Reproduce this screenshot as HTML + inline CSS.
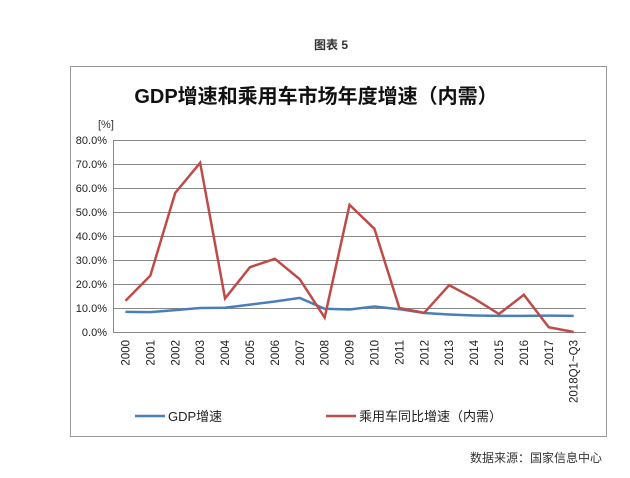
<!DOCTYPE html>
<html><head><meta charset="utf-8"><style>
body{margin:0;background:#fff;width:630px;height:478px;overflow:hidden}
svg{display:block;font-family:"Liberation Sans","Noto Sans CJK SC",sans-serif}
</style></head><body>
<svg width="630" height="478" viewBox="0 0 630 478">
<text x="331" y="49" font-size="12" font-weight="bold" text-anchor="middle" fill="#333">图表 5</text>
<rect x="70.5" y="66.5" width="536" height="370" fill="#fff" stroke="#999" stroke-width="1"/>
<text x="316" y="103" font-size="20" font-weight="bold" text-anchor="middle" fill="#111">GDP增速和乘用车市场年度增速（内需）</text>
<text x="98" y="128" font-size="11" fill="#333">[%]</text>
<g stroke="#888" stroke-width="1">
<line x1="113" y1="140.5" x2="586" y2="140.5"/><line x1="113" y1="164.5" x2="586" y2="164.5"/>
<line x1="113" y1="188.5" x2="586" y2="188.5"/><line x1="113" y1="212.5" x2="586" y2="212.5"/>
<line x1="113" y1="236.5" x2="586" y2="236.5"/><line x1="113" y1="260.5" x2="586" y2="260.5"/>
<line x1="113" y1="284.5" x2="586" y2="284.5"/><line x1="113" y1="308.5" x2="586" y2="308.5"/>
<line x1="113" y1="332.5" x2="586" y2="332.5"/><line x1="113.5" y1="140" x2="113.5" y2="332"/>
</g>
<g font-size="11" fill="#222" text-anchor="end">
<text x="107" y="144">80.0%</text><text x="107" y="168">70.0%</text><text x="107" y="192">60.0%</text>
<text x="107" y="216">50.0%</text><text x="107" y="240">40.0%</text><text x="107" y="264">30.0%</text>
<text x="107" y="288">20.0%</text><text x="107" y="312">10.0%</text><text x="107" y="336">0.0%</text>
</g>
<g font-size="11.5" fill="#222" text-anchor="end" id="xl"></g>
<polyline id="b" fill="none" stroke="#4a7ebb" stroke-width="2.5"/>
<polyline id="r" fill="none" stroke="#be4b48" stroke-width="2.5"/>
<line x1="135" y1="416" x2="165" y2="416" stroke="#4a7ebb" stroke-width="2.5"/>
<text x="168" y="421" font-size="13" fill="#222">GDP增速</text>
<line x1="326" y1="416" x2="356" y2="416" stroke="#be4b48" stroke-width="2.5"/>
<text x="359" y="421" font-size="13" fill="#222">乘用车同比增速（内需）</text>
<text x="602" y="462" font-size="12" text-anchor="end" fill="#333">数据来源：国家信息中心</text>
</svg>
<script>
var r=[13,23.5,58,70.5,14,27,30.5,22,6,53,43,10,8,19.5,14,7.5,15.5,2,0];
var b=[8.4,8.3,9.1,10,10.1,11.4,12.7,14.2,9.7,9.4,10.6,9.5,7.9,7.3,6.9,6.7,6.7,6.8,6.7];
var lab=["2000","2001","2002","2003","2004","2005","2006","2007","2008","2009","2010","2011","2012","2013","2014","2015","2016","2017","2018Q1~Q3"];
function X(i){return 113+24.9*(i+0.5)}function Y(v){return 332-v*2.4}
document.getElementById('r').setAttribute('points',r.map((v,i)=>X(i)+','+Y(v)).join(' '));
document.getElementById('b').setAttribute('points',b.map((v,i)=>X(i)+','+Y(v)).join(' '));
var g=document.getElementById('xl'),h='';
lab.forEach((t,i)=>{var x=X(i)+4;h+='<text transform="translate('+x+',340) rotate(-90)">'+t+'</text>'});
g.innerHTML=h;
</script>
</body></html>
